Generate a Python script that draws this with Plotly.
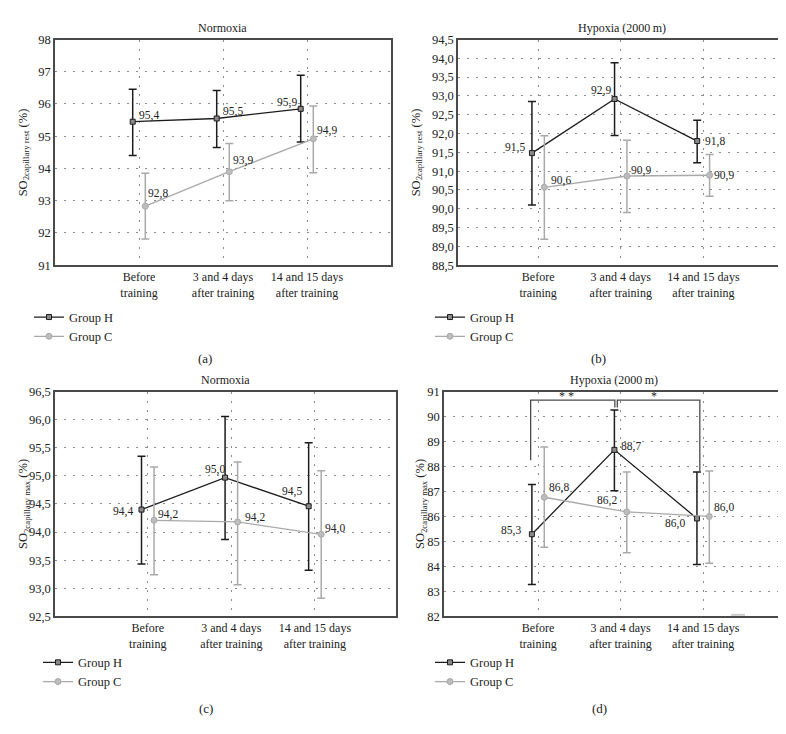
import numpy as np
import plotly.graph_objects as go

W, H = 786, 734

categories = ["Before<br>training", "3 and 4 days<br>after training", "14 and 15 days<br>after training"]

# Panel (a) Normoxia, SO2 capillary rest
a_h_mean = [95.45, 95.55, 95.85]
a_h_lo = [94.40, 94.65, 94.82]
a_h_hi = [96.46, 96.42, 96.89]
a_h_lbl = ["95,4", "95,5", "95,9"]
a_c_mean = [92.83, 93.90, 94.92]
a_c_lo = [91.81, 93.00, 93.87]
a_c_hi = [93.85, 94.77, 95.94]
a_c_lbl = ["92,8", "93,9", "94,9"]
a_yticks = [91, 92, 93, 94, 95, 96, 97, 98]

# Panel (b) Hypoxia, SO2 capillary rest
b_h_mean = [91.48, 92.92, 91.80]
b_h_lo = [90.10, 91.95, 91.22]
b_h_hi = [92.85, 93.88, 92.35]
b_h_lbl = ["91,5", "92,9", "91,8"]
b_c_mean = [90.57, 90.87, 90.89]
b_c_lo = [89.19, 89.90, 90.33]
b_c_hi = [91.94, 91.82, 91.44]
b_c_lbl = ["90,6", "90,9", "90,9"]
b_yticks = [88.5, 89.0, 89.5, 90.0, 90.5, 91.0, 91.5, 92.0, 92.5, 93.0, 93.5, 94.0, 94.5]

# Panel (c) Normoxia, SO2 capillary max
c_h_mean = [94.40, 94.97, 94.46]
c_h_lo = [93.43, 93.87, 93.32]
c_h_hi = [95.35, 96.06, 95.59]
c_h_lbl = ["94,4", "95,0", "94,5"]
c_c_mean = [94.21, 94.18, 93.96]
c_c_lo = [93.24, 93.06, 92.82]
c_c_hi = [95.16, 95.25, 95.09]
c_c_lbl = ["94,2", "94,2", "94,0"]
c_yticks = [92.5, 93.0, 93.5, 94.0, 94.5, 95.0, 95.5, 96.0, 96.5]

# Panel (d) Hypoxia, SO2 capillary max
d_h_mean = [85.29, 88.67, 85.92]
d_h_lo = [83.27, 87.03, 84.08]
d_h_hi = [87.28, 90.27, 87.78]
d_h_lbl = ["85,3", "88,7", "86,0"]
d_c_mean = [86.77, 86.18, 86.00]
d_c_lo = [84.77, 84.55, 84.13]
d_c_hi = [88.78, 87.78, 87.82]
d_c_lbl = ["86,8", "86,2", "86,0"]
d_yticks = [82, 83, 84, 85, 86, 87, 88, 89, 90, 91]

FONT = "Liberation Serif"
TXT = "#222222"
H_COL = "#1c1c1c"
C_COL = "#a9a9a9"
FRAME = "#4a4a4a"
GRID = "#8c8c8c"
GRIDDASH = "2px,7px"

def fmt(v, dec):
    return (f"{v:.{dec}f}").replace(".", ",")

# panel geometry in pixels: (left, right, top, bottom), x range
panels = [
    dict(px=(47, 383, 25, 255), xr=(-1.0, 3.0), yt=a_yticks, dec=0, yr=(91, 98),
         h=(a_h_mean, a_h_lo, a_h_hi, a_h_lbl), c=(a_c_mean, a_c_lo, a_c_hi, a_c_lbl),
         title="Normoxia", ylab="SO<sub>2capillary rest</sub> (%)", ylabx=16, cap="(a)",
         capxy=(197, 350), legxy=(21, 293),
         hpos=[("left", 4, 6), ("left", 4, 7), ("right", -2, 6)],
         cpos=[("left", 1, 13), ("left", 2, 11), ("left", 2, 8)]),
    dict(px=(450, 778, 25, 255), xr=(-0.97, 3.0), yt=b_yticks, dec=1, yr=(88.5, 94.5),
         h=(b_h_mean, b_h_lo, b_h_hi, b_h_lbl), c=(b_c_mean, b_c_lo, b_c_hi, b_c_lbl),
         title="Hypoxia (2000\u2009m)", ylab="SO<sub>2capillary rest</sub> (%)", ylabx=409, cap="(b)",
         capxy=(590, 350), legxy=(422, 293),
         hpos=[("right", -5, 6), ("right", -2, 8), ("left", 6, 0)],
         cpos=[("left", 5, 7), ("left", 2, 6), ("left", 2, 0)]),
    dict(px=(47, 388, 384, 613), xr=(-1.11, 2.97), yt=c_yticks, dec=1, yr=(92.5, 96.5),
         h=(c_h_mean, c_h_lo, c_h_hi, c_h_lbl), c=(c_c_mean, c_c_lo, c_c_hi, c_c_lbl),
         title="Normoxia", ylab="SO<sub>2capillary max</sub> (%)", ylabx=16, cap="(c)",
         capxy=(198, 707), legxy=(30, 645),
         hpos=[("right", -7, -2), ("right", 2, 8), ("right", -5, 15)],
         cpos=[("left", 2, 6), ("left", 5, 4), ("left", 2, 6)]),
    dict(px=(436, 776, 384, 613), xr=(-1.14, 2.98), yt=d_yticks, dec=0, yr=(82, 91),
         h=(d_h_mean, d_h_lo, d_h_hi, d_h_lbl), c=(d_c_mean, d_c_lo, d_c_hi, d_c_lbl),
         title="Hypoxia (2000\u2009m)", ylab="SO<sub>2capillary max</sub> (%)", ylabx=413, cap="(d)",
         capxy=(591, 707), legxy=(422, 645),
         hpos=[("right", -9, 4), ("left", 5, 3), ("right", -10, -5)],
         cpos=[("left", 3, 10), ("right", -8, 11), ("left", 3, 9)]),
]

fig = go.Figure()
annotations = []
shapes = []
OFF = 0.075
xcat = np.arange(len(categories))

for i, p in enumerate(panels, start=1):
    sfx = "" if i == 1 else str(i)
    xa, ya = "x" + sfx, "y" + sfx
    leg = "legend" + sfx
    l, r, t, b = p["px"]
    for grp, name, col, dx, sym, pos in [
        (p["h"], "Group H", H_COL, -OFF, "square", p["hpos"]),
        (p["c"], "Group C", C_COL, OFF, "circle", p["cpos"]),
    ]:
        mean, lo, hi, lbl = (np.array(grp[0]), np.array(grp[1]), np.array(grp[2]), grp[3])
        xs = xcat + dx
        is_h = name == "Group H"
        fig.add_trace(go.Scatter(
            x=xs, y=mean, mode="lines+markers", name=name,
            xaxis=xa, yaxis=ya, legend=leg,
            line=dict(color=col, width=1.3),
            marker=dict(symbol=sym, size=5 if is_h else 6,
                        color="#8a8a8a" if is_h else "#bdbdbd",
                        line=dict(color=col, width=1)),
            error_y=dict(type="data", symmetric=False, array=hi - mean,
                         arrayminus=mean - lo, color=col, thickness=1.5, width=4),
        ))
        for xv, yv, txt, (anc, xs_, ys_) in zip(xs, mean, lbl, pos):
            annotations.append(dict(x=xv, y=yv, xref=xa, yref=ya, text=txt, showarrow=False,
                                    xanchor=anc, yanchor="middle", xshift=xs_, yshift=ys_,
                                    font=dict(family=FONT, size=11.5, color=TXT)))
    fig.update_layout(**{
        "xaxis" + sfx: dict(domain=[l / W, r / W], range=list(p["xr"]), anchor=ya,
                            tickvals=list(xcat), ticktext=categories,
                            showgrid=True, gridcolor=GRID, griddash=GRIDDASH, gridwidth=1,
                            showline=True, mirror=True, linecolor=FRAME, linewidth=1.5,
                            zeroline=False, ticks="", tickfont=dict(family=FONT, size=12, color=TXT)),
        "yaxis" + sfx: dict(domain=[1 - b / H, 1 - t / H], range=list(p["yr"]), anchor=xa,
                            tickvals=p["yt"], ticktext=[fmt(v, p["dec"]) for v in p["yt"]],
                            showgrid=True, gridcolor=GRID, griddash=GRIDDASH, gridwidth=1,
                            showline=True, mirror=True, linecolor=FRAME, linewidth=1.5,
                            zeroline=False, ticks="", tickfont=dict(family=FONT, size=12.5, color=TXT)),
        leg: dict(x=p["legxy"][0] / W, y=1 - p["legxy"][1] / H, xanchor="left", yanchor="top",
                  bgcolor="rgba(0,0,0,0)", borderwidth=0,
                  font=dict(family=FONT, size=12.5, color=TXT), itemwidth=30),
    })
    annotations.append(dict(x=(l + r) / 2 / W, y=1 - 13 / H if i <= 2 else 1 - 372 / H,
                            xref="paper", yref="paper", text=p["title"], showarrow=False,
                            xanchor="center", yanchor="middle",
                            font=dict(family=FONT, size=12, color=TXT)))
    annotations.append(dict(x=p["ylabx"] / W, y=1 - (t + b) / 2 / H, xref="paper", yref="paper",
                            text=p["ylab"], textangle=-90, showarrow=False,
                            xanchor="center", yanchor="middle",
                            font=dict(family=FONT, size=12.5, color=TXT)))
    annotations.append(dict(x=p["capxy"][0] / W, y=1 - p["capxy"][1] / H, xref="paper", yref="paper",
                            text=p["cap"], showarrow=False, xanchor="center", yanchor="middle",
                            font=dict(family=FONT, size=13, color=TXT)))

# significance brackets in panel (d)
shapes.append(dict(type="path", xref="x4", yref="y4",
                   path="M -0.09,88.25 L -0.09,90.66 L 0.93,90.66 L 0.93,90.37",
                   line=dict(color=FRAME, width=1.3)))
shapes.append(dict(type="path", xref="x4", yref="y4",
                   path="M 0.96,90.37 L 0.96,90.66 L 1.96,90.66 L 1.96,87.82",
                   line=dict(color=FRAME, width=1.3)))
annotations.append(dict(x=0.34, y=90.66, xref="x4", yref="y4", text="* *", showarrow=False,
                        xanchor="center", yanchor="bottom", yshift=-5,
                        font=dict(family=FONT, size=12, color=TXT)))
annotations.append(dict(x=1.41, y=90.66, xref="x4", yref="y4", text="*", showarrow=False,
                        xanchor="center", yanchor="bottom", yshift=-5,
                        font=dict(family=FONT, size=12, color=TXT)))
# small grey mark at the bottom of panel (d)
shapes.append(dict(type="line", xref="paper", yref="paper", x0=723 / W, x1=737 / W,
                   y0=1 - 611.5 / H, y1=1 - 611.5 / H, line=dict(color="#cccccc", width=2)))

fig.update_layout(width=W, height=H, margin=dict(l=0, r=0, t=0, b=0),
                  paper_bgcolor="white", plot_bgcolor="white",
                  annotations=annotations, shapes=shapes, showlegend=True,
                  font=dict(family=FONT, size=12, color=TXT))

fig.write_html("out.html")
